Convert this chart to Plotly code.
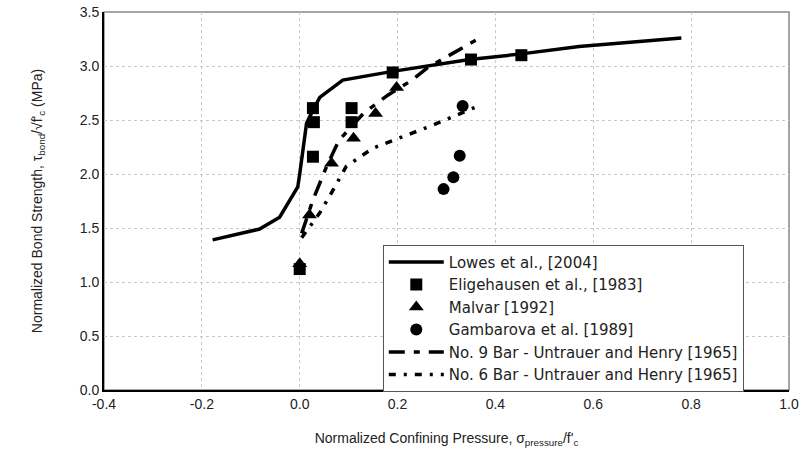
import plotly.graph_objects as go

# Lowes et al. [2004] model curve
lowes_x = [-0.178, -0.082, -0.041, -0.004, 0.0, 0.014, 0.027, 0.041, 0.088, 0.19, 0.347, 0.449, 0.571, 0.78]
lowes_y = [1.39, 1.49, 1.60, 1.88, 2.0, 2.47, 2.59, 2.71, 2.87, 2.95, 3.06, 3.11, 3.18, 3.26]

# Eligehausen et al. [1983]
elig_x = [0.0, 0.027, 0.029, 0.027, 0.106, 0.106, 0.19, 0.35, 0.453]
elig_y = [1.12, 2.61, 2.48, 2.16, 2.61, 2.48, 2.94, 3.06, 3.10]

# Malvar [1992]
malv_x = [0.0, 0.02, 0.065, 0.11, 0.155, 0.198]
malv_y = [1.17, 1.62, 2.10, 2.33, 2.56, 2.80]

# Gambarova et al. [1989]
gamb_x = [0.294, 0.314, 0.327, 0.333]
gamb_y = [1.86, 1.97, 2.17, 2.63]

# No. 9 Bar - Untrauer and Henry [1965]
n9_x = [0.004, 0.027, 0.055, 0.08, 0.13, 0.18, 0.23, 0.26, 0.36]
n9_y = [1.45, 1.76, 2.07, 2.31, 2.56, 2.73, 2.87, 2.98, 3.24]

# No. 6 Bar - Untrauer and Henry [1965]
n6_x = [0.004, 0.041, 0.068, 0.095, 0.15, 0.204, 0.265, 0.36]
n6_y = [1.41, 1.64, 1.85, 2.07, 2.24, 2.33, 2.44, 2.62]

x_ticks = [-0.4, -0.2, 0.0, 0.2, 0.4, 0.6, 0.8, 1.0]
y_ticks = [0.0, 0.5, 1.0, 1.5, 2.0, 2.5, 3.0, 3.5]

fig = go.Figure()
fig.add_trace(go.Scatter(x=lowes_x, y=lowes_y, mode="lines", name="Lowes et al., [2004]",
                         line=dict(color="black", width=3.5)))
fig.add_trace(go.Scatter(x=elig_x, y=elig_y, mode="markers", name="Eligehausen et al., [1983]",
                         marker=dict(symbol="square", size=12, color="black")))
fig.add_trace(go.Scatter(x=malv_x, y=malv_y, mode="markers", name="Malvar [1992]",
                         marker=dict(symbol="triangle-up", size=13, color="black")))
fig.add_trace(go.Scatter(x=gamb_x, y=gamb_y, mode="markers", name="Gambarova et al. [1989]",
                         marker=dict(symbol="circle", size=12, color="black")))
fig.add_trace(go.Scatter(x=n9_x, y=n9_y, mode="lines", name="No. 9 Bar - Untrauer and Henry [1965]",
                         line=dict(color="black", width=3.5, dash="16px,9px,6px,9px")))
fig.add_trace(go.Scatter(x=n6_x, y=n6_y, mode="lines", name="No. 6 Bar - Untrauer and Henry [1965]",
                         line=dict(color="black", width=3.5, dash="7px,8px,3px,8px")))

fig.add_shape(type="rect", xref="paper", yref="paper", x0=0, y0=0, x1=1, y1=1,
              line=dict(color="#888888", width=1.5), layer="below")

fig.update_layout(
    width=804, height=473,
    margin=dict(l=104, r=15, t=12, b=83),
    paper_bgcolor="white", plot_bgcolor="white",
    font=dict(family="Liberation Sans, Arial, sans-serif", size=14, color="#222222"),
    showlegend=True,
    legend=dict(x=0.407, y=0.384, xanchor="left", yanchor="top",
                bgcolor="white", bordercolor="#555555", borderwidth=1,
                font=dict(family="DejaVu Sans, sans-serif", size=15), tracegroupgap=0, itemwidth=55),
    xaxis=dict(range=[-0.4, 1.0], tickvals=x_ticks, ticktext=[f"{v:.1f}" for v in x_ticks],
               showgrid=True, gridcolor="#c8c8c8", gridwidth=1, griddash="dot", zeroline=False,
               showline=True, linecolor="black", linewidth=2, ticks="", automargin=False,
               title=dict(text="Normalized Confining Pressure, σ<sub>pressure</sub>/f'<sub>c</sub>",
                          font=dict(size=14), standoff=22)),
    yaxis=dict(range=[0, 3.5], tickvals=y_ticks, ticktext=[f"{v:.1f}" for v in y_ticks],
               showgrid=True, gridcolor="#c8c8c8", gridwidth=1, griddash="dot", zeroline=False,
               showline=True, linecolor="black", linewidth=2, ticks="", automargin=False,
               title=dict(text="Normalized Bond Strength, τ<sub>bond</sub>/√f'<sub>c</sub> (MPa)",
                          font=dict(size=14), standoff=34)),
)

fig.write_html("out.html", config={"displayModeBar": False},
               post_script="document.body.style.margin='0';")
